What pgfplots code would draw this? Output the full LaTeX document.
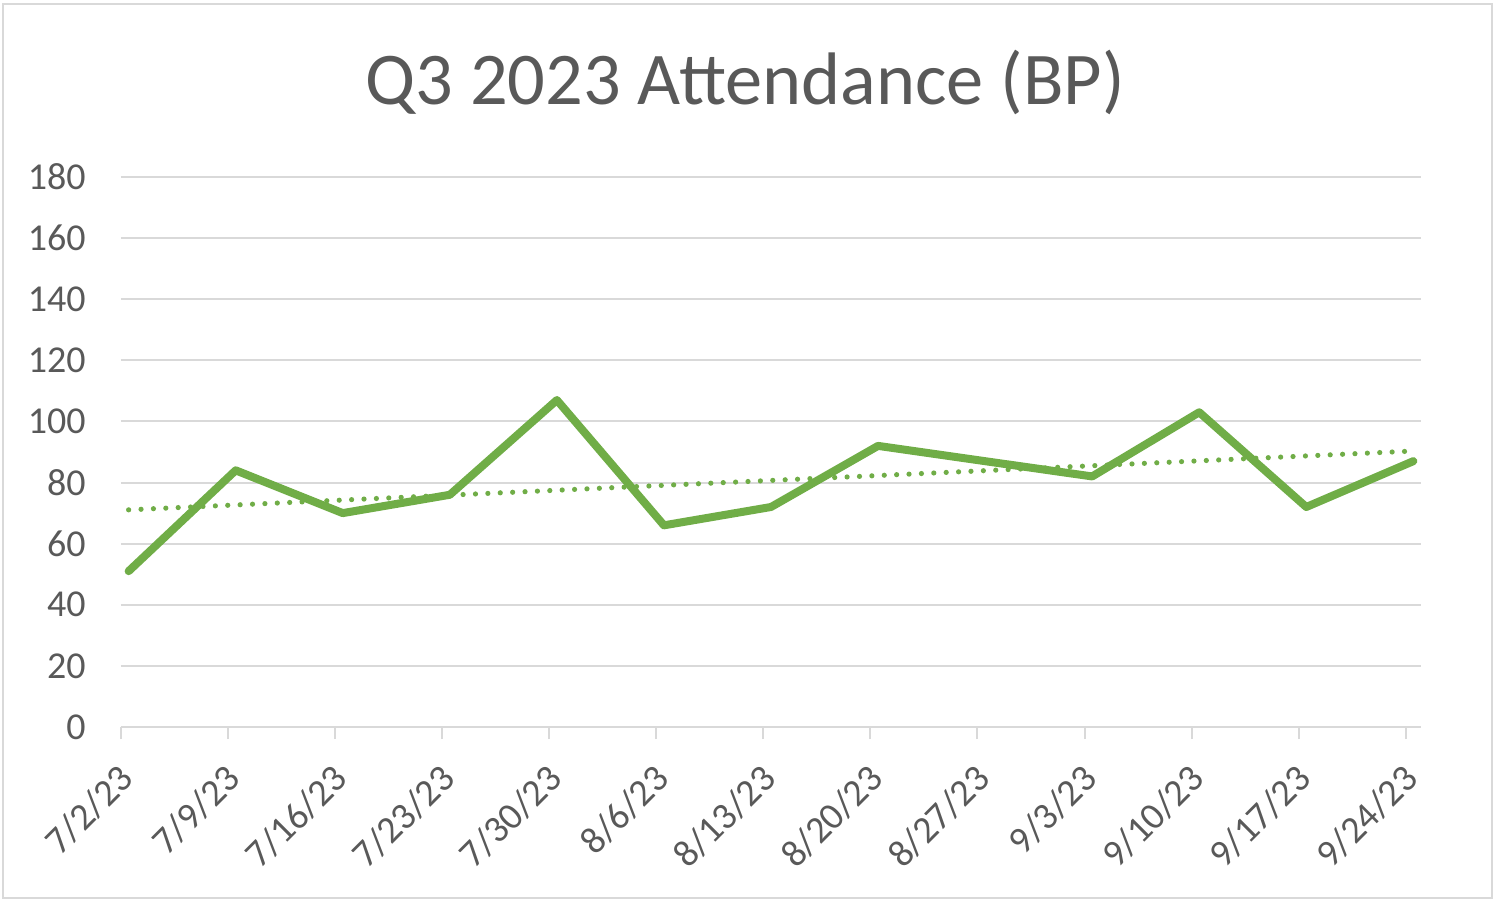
\documentclass[border=0pt]{standalone}
\usepackage{pgfplots}
\pgfplotsset{compat=1.18}
\usepackage{fontspec}
\setmainfont{Carlito}
\definecolor{txt}{HTML}{595959}
\definecolor{gridc}{HTML}{D9D9D9}
\definecolor{xlgreen}{HTML}{70AD47}
\begin{document}
\begin{tikzpicture}
\path (-60.5pt,-89pt) rectangle (689.5pt,363.5pt);
\draw[gridc, line width=1pt] (-58.75pt,-85.5pt) rectangle (685.5pt,361.5pt);
\begin{axis}[
  at={(0pt,0pt)}, anchor=south west,
  scale only axis,
  width=650pt, height=275pt,
  xmin=0, xmax=85, ymin=0, ymax=180,
  axis line style={draw=none},
  axis x line*=bottom,
  x axis line style={draw=gridc, line width=1pt},
  ytick={0,20,...,180},
  xtick={0,7,...,84},
  xticklabels={7/2/23,7/9/23,7/16/23,7/23/23,7/30/23,8/6/23,8/13/23,8/20/23,8/27/23,9/3/23,9/10/23,9/17/23,9/24/23},
  ymajorgrids,
  grid style={draw=gridc, line width=1pt},
  major tick length=6pt,
  tick align=outside,
  xtick style={draw=gridc, line width=1pt},
  ytick style={draw=none},
  /pgf/number format/assume math mode=true,
  ticklabel style={font=\fontsize{19}{23}\selectfont, text=txt},
  yticklabel style={anchor=east, inner sep=0pt, xshift=-11.5pt},
  xticklabel style={anchor=east, inner sep=0pt, xshift=3pt, yshift=-16.5pt, rotate=45},
  clip=false,
]
\addplot[xlgreen, line width=4pt, line join=round, line cap=round] coordinates {
(0.5,51) (7.5,84) (14.5,70) (21.5,76) (28.5,107) (35.5,66) (42.5,72) (49.5,92) (56.5,87) (63.5,82) (70.5,103) (77.5,72) (84.5,87)
};
\addplot[xlgreen, line width=2.6pt, line cap=round, dash pattern=on 0pt off 6.2pt] coordinates {
(0.5,71.07) (84.5,90.32)
};
\end{axis}
\node[anchor=base, text=txt, font=\fontsize{37.2}{45}\selectfont, inner sep=0pt] at (312pt,311pt) {Q3 2023 Attendance (BP)};
\end{tikzpicture}
\end{document}
